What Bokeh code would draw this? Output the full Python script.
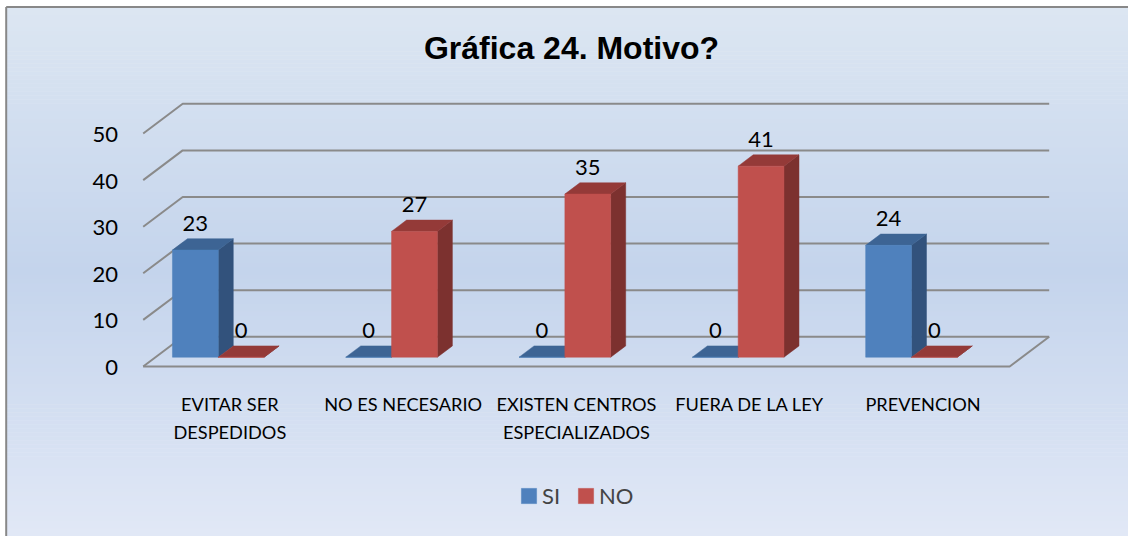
from bokeh.plotting import figure
from bokeh.models import Range1d, Legend, LegendItem, ColumnDataSource
from bokeh.core.properties import value
from bokeh.embed import file_html
from bokeh.resources import INLINE

# ---------------- data ----------------
categories = ["EVITAR SER\nDESPEDIDOS", "NO ES NECESARIO",
              "EXISTEN CENTROS\nESPECIALIZADOS", "FUERA DE LA LEY", "PREVENCION"]
series_names = ["SI", "NO"]
si_values = [23, 0, 0, 0, 24]
no_values = [0, 27, 35, 41, 0]
y_ticks = [0, 10, 20, 30, 40, 50]
title_text = "Gráfica 24. Motivo?"

# ---------------- layout constants ----------------
W, H = 1128, 536
PX_U = 173.3          # pixels per category unit
PX_V = 4.66           # pixels per value unit
X0 = 142.7            # canvas x of the front-left floor corner
Y0 = 366.0            # canvas y of value 0 on the front plane
DX = 39.5 / PX_U      # depth shift (x) for full depth
DY = 29.7 / PX_V      # depth shift (y) for full depth
D0, D1 = 0.313, 0.693 # bar depth range
BAR_OFF = 0.0975      # first bar offset inside a category
BAR_W = 0.2643        # bar width (category units)

si_colors = dict(front="#4f81bd", top="#3d6494", side="#32527c")
no_colors = dict(front="#c0504d", top="#943a38", side="#7c312f")

x_range = Range1d(-X0 / PX_U, (W - X0) / PX_U)
y_range = Range1d((Y0 - H) / PX_V, Y0 / PX_V)


def cx(px):
    """canvas x pixel -> data x"""
    return (px - X0) / PX_U


def cy(py):
    """canvas y pixel -> data y"""
    return (Y0 - py) / PX_V


p = figure(width=W, height=H, x_range=x_range, y_range=y_range,
           output_backend="svg", toolbar_location=None,
           x_axis_location=None, y_axis_location=None,
           min_border=0, outline_line_color=None)
p.grid.visible = False
p.background_fill_color = "white"
p.border_fill_color = "white"


def proj(u, v, d):
    return u + d * DX, v + d * DY


# ---------------- background gradient ----------------
stops = [(0.0, (220, 230, 242)), (0.5, (196, 212, 236)), (1.0, (225, 232, 246))]


def grad(t):
    for (t0, c0), (t1, c1) in zip(stops[:-1], stops[1:]):
        if t <= t1:
            f = (t - t0) / (t1 - t0)
            return "#%02x%02x%02x" % tuple(int(round(a + (b - a) * f)) for a, b in zip(c0, c1))
    return "#%02x%02x%02x" % stops[-1][1]


TOP_PX, LEFT_PX = 6.5, 5.7
n_strips = 132
step = (H - TOP_PX) / n_strips
bg = ColumnDataSource(dict(
    top=[cy(TOP_PX + k * step) for k in range(n_strips)],
    bottom=[cy(TOP_PX + (k + 1) * step + 0.6) for k in range(n_strips)],
    color=[grad(k / (n_strips - 1)) for k in range(n_strips)],
))
p.quad(left=cx(LEFT_PX), right=x_range.end, top="top", bottom="bottom",
       fill_color="color", line_color=None, source=bg)

# border (left and top)
p.line([cx(LEFT_PX)] * 2, [y_range.start, cy(TOP_PX)],
       line_color="#888888", line_width=2)
p.line([cx(LEFT_PX), x_range.end], [cy(TOP_PX)] * 2,
       line_color="#888888", line_width=2)

# ---------------- gridlines (walls & floor) ----------------
ncat = len(categories)
gx, gy = [], []
for v in y_ticks:
    a = proj(0, v, 0)
    b = proj(0, v, 1)
    c = proj(ncat, v, 1)
    gx.append([a[0], b[0], c[0]])
    gy.append([a[1], b[1], c[1]])
# floor front and right edges
a = proj(0, 0, 0)
b = proj(ncat, 0, 0)
c = proj(ncat, 0, 1)
gx.append([a[0], b[0], c[0]])
gy.append([a[1], b[1], c[1]])
p.multi_line(gx, gy, line_color="#8a8a8a", line_width=2)

# ---------------- 3D bars ----------------
front_renderers = {}
for s, (name, vals, cols) in enumerate([("SI", si_values, si_colors),
                                        ("NO", no_values, no_colors)]):
    fl, fr, fb, ft = [], [], [], []
    txs, tys, sxs, sys_ = [], [], [], []
    for i, h in enumerate(vals):
        x0 = i + BAR_OFF + s * BAR_W
        x1 = x0 + BAR_W
        pts = [proj(x0, h, D0), proj(x1, h, D0), proj(x1, h, D1), proj(x0, h, D1)]
        txs.append([q[0] for q in pts]); tys.append([q[1] for q in pts])
        pts = [proj(x1, 0, D0), proj(x1, 0, D1), proj(x1, h, D1), proj(x1, h, D0)]
        sxs.append([q[0] for q in pts]); sys_.append([q[1] for q in pts])
        l, b0 = proj(x0, 0, D0)
        r, t0 = proj(x1, h, D0)
        fl.append(l); fr.append(r); fb.append(b0); ft.append(t0)
    p.patches(sxs, sys_, fill_color=cols["side"], line_color=cols["side"], line_width=0.5)
    p.patches(txs, tys, fill_color=cols["top"], line_color=cols["top"], line_width=0.5)
    front_renderers[name] = p.quad(left=fl, right=fr, bottom=fb, top=ft,
                                   fill_color=cols["front"], line_color=cols["front"],
                                   line_width=0.5)

# ---------------- value labels ----------------
lx, ly, lt = [], [], []
for s, vals in enumerate([si_values, no_values]):
    for i, h in enumerate(vals):
        lx.append(i + BAR_OFF + s * BAR_W + BAR_W / 2 + D0 * DX)
        ly.append(h + D1 * DY + 3.3)
        lt.append(str(h))
p.text(x=lx, y=ly, text=lt, text_font=value("Lato"), text_font_size="22px",
       text_align="center", text_baseline="middle", text_color="#000000")

# ---------------- y tick labels ----------------
p.text(x=[cx(117.5)] * len(y_ticks), y=[v - 0.2 for v in y_ticks],
       text=[str(v) for v in y_ticks], text_font=value("Lato"), text_font_size="22px",
       text_align="right", text_baseline="middle", text_color="#000000")

# ---------------- category labels ----------------
p.text(x=[i + 0.5 for i in range(ncat)], y=[cy(392.5)] * ncat, text=categories,
       text_font=value("Lato"), text_font_size="18.2px", text_align="center",
       text_baseline="top", text_line_height=1.25, text_color="#000000")

# ---------------- title ----------------
p.text(x=[cx(571)], y=[cy(47.5)], text=[title_text],
       text_font=value("Liberation Sans"), text_font_style="bold",
       text_font_size="32px", text_align="center", text_baseline="middle",
       text_color="#000000")

# ---------------- legend ----------------
legend = Legend(items=[LegendItem(label=n, renderers=[front_renderers[n]]) for n in series_names],
                orientation="horizontal", location=(519, H - 509),
                label_text_font="Lato", label_text_font_size="22px",
                glyph_width=19, glyph_height=19, label_height=19,
                label_standoff=4, spacing=14, padding=0, margin=0,
                border_line_color=None, background_fill_alpha=0)
p.add_layout(legend)

open("out.html", "w").write(file_html(p, INLINE))
